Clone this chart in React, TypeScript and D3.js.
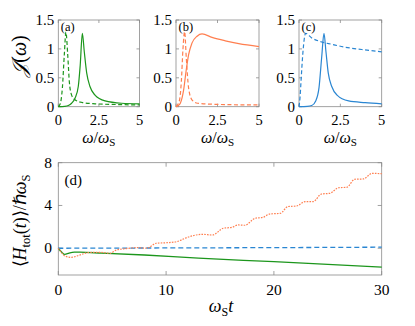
import React from 'react';
import * as d3 from 'd3';

// spectral densities
const wGreenSolid = [0, 0.4, 0.62, 0.82, 1.03, 1.23, 1.35, 1.48, 1.6, 1.75, 1.95, 2.26, 2.88, 3.9, 5];
const jGreenSolid = [0, 0.005, 0.02, 0.06, 0.145, 0.35, 0.72, 1.27, 0.95, 0.58, 0.35, 0.2, 0.1, 0.06, 0.05];
const wGreenDash = [0, 0.12, 0.25, 0.37, 0.47, 0.58, 0.68, 0.82, 1.03, 1.44, 2.26, 3.5, 5];
const jGreenDash = [0, 0.05, 0.32, 0.9, 1.29, 0.9, 0.43, 0.2, 0.12, 0.075, 0.05, 0.038, 0.03];

const wOrangeSolid = [0, 0.13, 0.26, 0.46, 0.6, 0.76, 0.96, 1.27, 1.57, 2.17, 2.97, 3.78, 5];
const jOrangeSolid = [0, 0.02, 0.06, 0.29, 0.6, 0.9, 1.1, 1.22, 1.26, 1.2, 1.14, 1.09, 1.04];
const wOrangeDash = [0, 0.2, 0.32, 0.42, 0.52, 0.62, 0.76, 0.96, 1.3, 2.5, 5];
const jOrangeDash = [0, 0.1, 0.43, 1.0, 1.3, 0.84, 0.32, 0.12, 0.06, 0.04, 0.03];

const wBlueSolid = [0, 0.5, 0.77, 1.01, 1.21, 1.37, 1.51, 1.63, 1.77, 1.98, 2.3, 3.0, 4.0, 5];
const jBlueSolid = [0, 0.005, 0.02, 0.1, 0.33, 0.85, 1.27, 0.95, 0.58, 0.35, 0.2, 0.1, 0.07, 0.05];
const wBlueDash = [0, 0.06, 0.12, 0.24, 0.4, 0.77, 1.37, 1.98, 2.78, 3.79, 5];
const jBlueDash = [0, 0.15, 0.43, 0.95, 1.27, 1.19, 1.12, 1.08, 1.03, 0.99, 0.95];

// energy vs time, panel (d)
const tOrange = [0, 0.3, 0.6, 1.2, 2.0, 2.8, 3.9, 4.8, 5.4, 6.3, 7.3, 8.2, 9.1, 10.1, 11.0, 11.75, 12.5, 13.4, 14.3, 15.3, 16.1, 16.7, 17.3, 18.25, 19.0, 19.6, 20.6, 21.3, 22.1, 22.9, 23.65, 24.4, 25.2, 26.0, 26.75, 27.5, 28.3, 29.1, 30];
const eOrange = [0, -0.4, -0.72, -0.85, -0.63, -0.4, -0.38, -0.47, -0.16, -0.03, 0.06, 0.0, 0.47, 0.52, 0.62, 0.93, 1.18, 1.3, 1.24, 1.87, 1.96, 2.18, 2.15, 2.8, 2.9, 3.2, 3.27, 3.9, 3.95, 4.36, 4.36, 5.07, 5.14, 5.66, 5.7, 6.45, 6.48, 7.0, 6.98];
const tGreen = [0, 0.3, 0.6, 1.0, 1.5, 2, 4, 8, 13, 20, 25, 30];
const eGreen = [0, -0.35, -0.58, -0.45, -0.37, -0.37, -0.45, -0.63, -0.93, -1.25, -1.5, -1.76];
const tBlue = [0, 10, 20, 30];
const eBlue = [0, 0.03, 0.06, 0.1];

const topXTicks = [0, 2.5, 5];
const topYTicks = [0, 0.5, 1, 1.5];
const botXTicks = [0, 10, 20, 30];
const botYTicks = [0, 4, 8];

const GREEN = '#1c961c';
const ORANGE = '#ff7f50';
const BLUE = '#2a86d2';
const FRAME = '#8a8a8a';
const TXT = { fontFamily: 'Liberation Serif' };

const zip = (xs: number[], ys: number[]) => xs.map((x, i) => [x, ys[i]] as [number, number]);

type Curve = { pts: [number, number][]; color: string; dash?: string };

const Frame = ({ x, y, xTicks, yTicks, tick = 3 }: any) => {
  const [x0, x1] = x.range();
  const [y0, y1] = y.range();
  return (
    <g stroke={FRAME} strokeWidth={0.8} fill="none">
      <rect x={x0} y={y1} width={x1 - x0} height={y0 - y1} />
      {xTicks.map((t: number) => (
        <g key={'x' + t}>
          <line x1={x(t)} x2={x(t)} y1={y0} y2={y0 - tick} />
          <line x1={x(t)} x2={x(t)} y1={y1} y2={y1 + tick} />
        </g>
      ))}
      {yTicks.map((t: number) => (
        <g key={'y' + t}>
          <line x1={x0} x2={x0 + tick} y1={y(t)} y2={y(t)} />
          <line x1={x1} x2={x1 - tick} y1={y(t)} y2={y(t)} />
        </g>
      ))}
    </g>
  );
};

const TopPanel = ({ left, right, label, curves }: { left: number; right: number; label: string; curves: Curve[] }) => {
  const x = d3.scaleLinear().domain([0, 5]).range([left, right]);
  const y = d3.scaleLinear().domain([0, 1.5]).range([106.7, 20]);
  const line = d3.line<[number, number]>()
    .x(d => x(d[0]))
    .y(d => y(d[1]))
    .curve(d3.curveMonotoneX);
  return (
    <g>
      <Frame x={x} y={y} xTicks={topXTicks} yTicks={topYTicks} />
      {curves.map((c, i) => (
        <path key={i} d={line(c.pts) || ''} fill="none" stroke={c.color} strokeWidth={1.2}
          strokeDasharray={c.dash} />
      ))}
      <text x={left + 2.5} y={31} fontSize={12.5} style={TXT}>{label}</text>
      {topYTicks.map(t => (
        <text key={t} x={left - 4} y={y(t) + 5} textAnchor="end" fontSize={15} style={TXT}>{t}</text>
      ))}
      {topXTicks.map(t => (
        <text key={t} x={x(t)} y={125} textAnchor="middle" fontSize={14.5} style={TXT}>{t}</text>
      ))}
      <text x={(left + right) / 2} y={142.5} textAnchor="middle" fontSize={16} style={TXT}>
        <tspan fontStyle="italic">ω</tspan>/<tspan fontStyle="italic">ω</tspan>
        <tspan fontSize={11} dy={3}>S</tspan>
      </text>
    </g>
  );
};

const BottomPanel = () => {
  const x = d3.scaleLinear().domain([0, 30]).range([58.3, 381.7]);
  const y = d3.scaleLinear().domain([-2.5, 8]).range([275, 162.7]);
  const line = d3.line<[number, number]>()
    .x(d => x(d[0]))
    .y(d => y(d[1]))
    .curve(d3.curveMonotoneX);
  return (
    <g>
      <Frame x={x} y={y} xTicks={botXTicks} yTicks={botYTicks} tick={4} />
      <path d={line(zip(tGreen, eGreen)) || ''} fill="none" stroke={GREEN} strokeWidth={1.3} />
      <path d={line(zip(tBlue, eBlue)) || ''} fill="none" stroke={BLUE} strokeWidth={1.3} strokeDasharray="5,3" />
      <path d={line(zip(tOrange, eOrange)) || ''} fill="none" stroke={ORANGE} strokeWidth={1.2} strokeDasharray="1.6,1.2" />
      <text x={64.5} y={185} fontSize={15} style={TXT}>(d)</text>
      {botYTicks.map(t => (
        <text key={t} x={52} y={y(t) + 5} textAnchor="end" fontSize={15.5} style={TXT}>{t}</text>
      ))}
      {botXTicks.map(t => (
        <text key={t} x={x(t)} y={295} textAnchor="middle" fontSize={15.5} style={TXT}>{t}</text>
      ))}
      <text x={221} y={312} textAnchor="middle" fontSize={18} style={TXT}>
        <tspan fontStyle="italic">ω</tspan>
        <tspan fontSize={12} dy={3.5}>S</tspan>
        <tspan fontStyle="italic" dy={-3.5}>t</tspan>
      </text>
      <text transform="translate(26,221) rotate(-90)" textAnchor="middle" fontSize={18} style={TXT}>
        ⟨<tspan fontStyle="italic">H</tspan>
        <tspan fontSize={12.5} dy={3.5}>tot</tspan>
        <tspan dy={-3.5}>(</tspan><tspan fontStyle="italic">t</tspan>)⟩/ℏ<tspan fontStyle="italic">ω</tspan>
        <tspan fontSize={12.5} dy={3.5}>S</tspan>
      </text>
    </g>
  );
};

export default function App() {
  return (
    <svg width={415} height={326} style={{ position: 'absolute', left: 0, top: 0, background: '#fff' }}>
      <TopPanel left={58.3} right={139.5} label="(a)" curves={[
        { pts: zip(wGreenSolid, jGreenSolid), color: GREEN },
        { pts: zip(wGreenDash, jGreenDash), color: GREEN, dash: '4,2.5' },
      ]} />
      <TopPanel left={176} right={259} label="(b)" curves={[
        { pts: zip(wOrangeSolid, jOrangeSolid), color: ORANGE },
        { pts: zip(wOrangeDash, jOrangeDash), color: ORANGE, dash: '4,2.5' },
      ]} />
      <TopPanel left={299} right={381.7} label="(c)" curves={[
        { pts: zip(wBlueSolid, jBlueSolid), color: BLUE },
        { pts: zip(wBlueDash, jBlueDash), color: BLUE, dash: '4,2.5' },
      ]} />
      <text transform="translate(26,56) rotate(-90)" textAnchor="middle" fontSize={20} style={TXT}>
        <tspan fontStyle="italic">𝒥</tspan>(<tspan fontStyle="italic">ω</tspan>)
      </text>
      <BottomPanel />
    </svg>
  );
}
